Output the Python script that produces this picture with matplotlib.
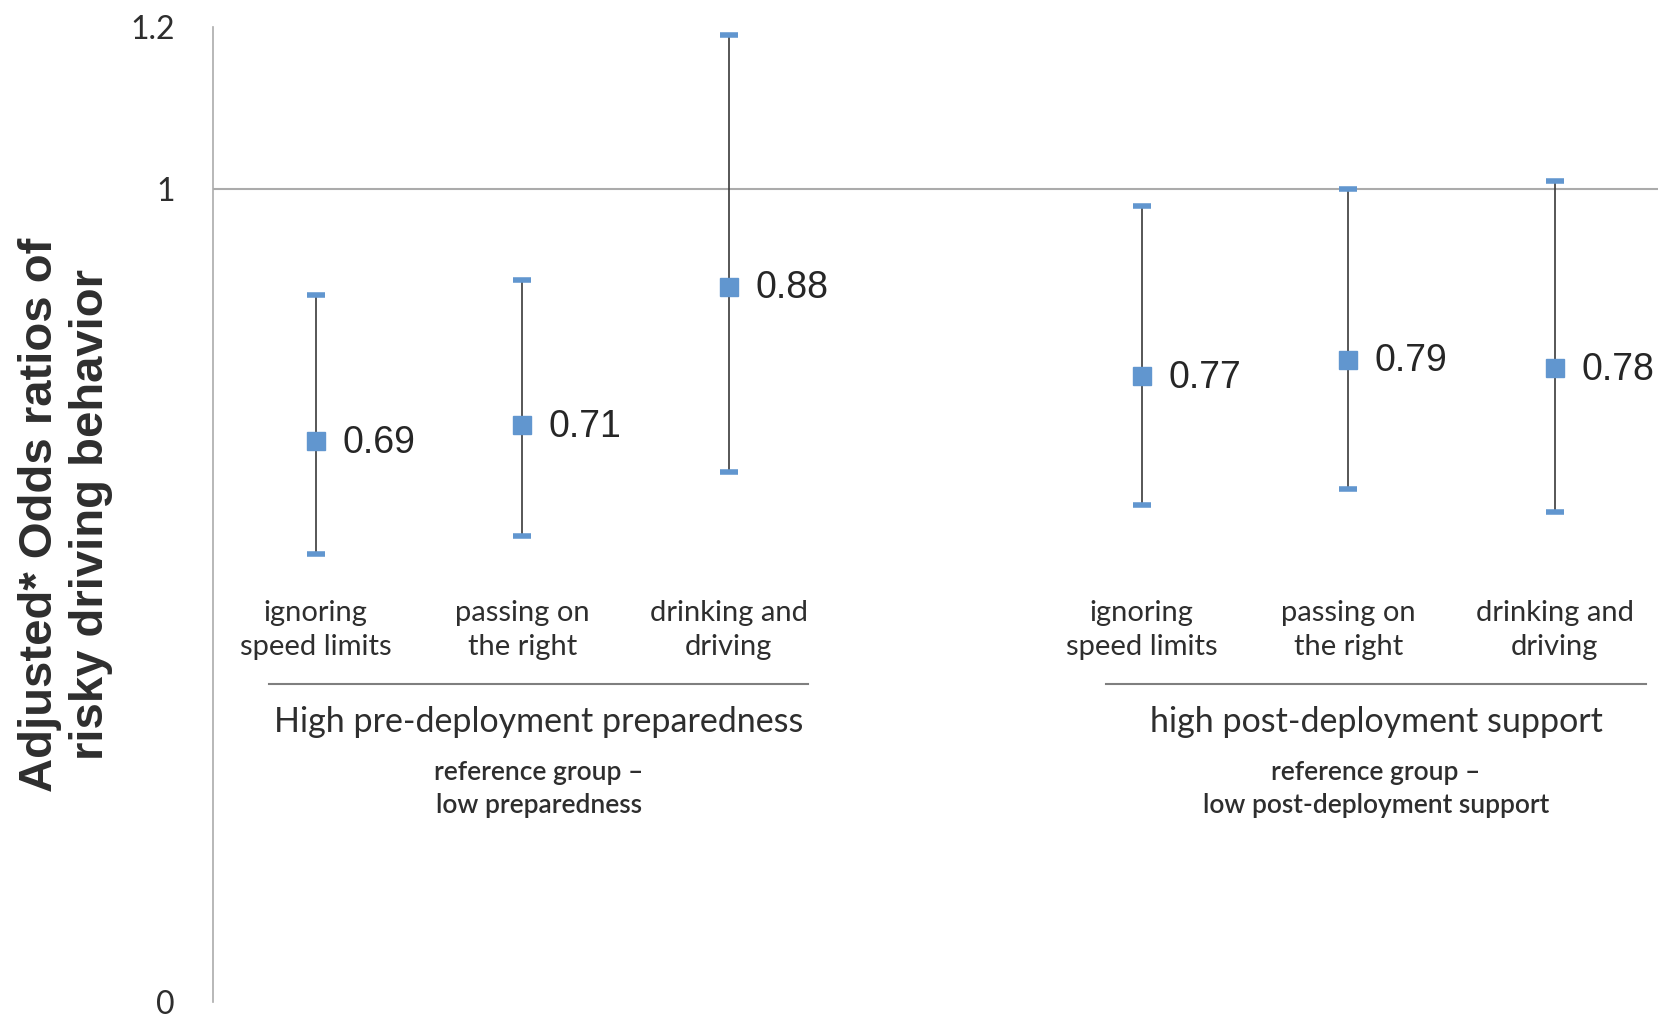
import matplotlib
matplotlib.use("Agg")
import matplotlib.pyplot as plt

# Data (position 3 is an empty gap between the two groups)
positions = [0, 1, 2, 4, 5, 6]
categories = ["ignoring\nspeed limits", "passing on\nthe right", "drinking and\ndriving",
              "ignoring\nspeed limits", "passing on\nthe right", "drinking and\ndriving"]
odds_ratios = [0.69, 0.71, 0.88, 0.77, 0.79, 0.78]
ci_lower = [0.552, 0.573, 0.652, 0.612, 0.631, 0.603]
ci_upper = [0.870, 0.889, 1.190, 0.980, 1.000, 1.010]

group_names = ["High pre-deployment preparedness", "high post-deployment support"]
group_refs = ["reference group \u2013\nlow preparedness",
              "reference group \u2013\nlow post-deployment support"]
group_spans = [(-0.227, 2.385), (3.827, 6.443)]

y_ticks = [0, 1, 1.2]

BLUE = "#6196CF"
TEXT = "#2e2e2e"
AXIS_GRAY = "#ABABAB"
LABEL_FONT = "Lato"

fig = plt.figure(figsize=(16.67, 10.17), dpi=100)
ax = fig.add_axes([0.1275, 0.0147, 0.8671, 0.9588])

ax.set_xlim(-0.5, 6.5)
ax.set_ylim(0, 1.2)

# reference line at OR = 1
ax.axhline(1, color=AXIS_GRAY, linewidth=1.5, zorder=1)

# confidence intervals
ax.vlines(positions, ci_lower, ci_upper, color="#3a3a3a", linewidth=1.2, zorder=2)
ax.plot(positions, ci_lower, linestyle="none", marker="_", markersize=13,
        markeredgewidth=4, color=BLUE, zorder=3)
ax.plot(positions, ci_upper, linestyle="none", marker="_", markersize=13,
        markeredgewidth=4, color=BLUE, zorder=3)

# point estimates
ax.plot(positions, odds_ratios, linestyle="none", marker="s", markersize=13,
        color=BLUE, zorder=4)
for x, v in zip(positions, odds_ratios):
    ax.annotate(f"{v:.2f}", (x, v), xytext=(19, -1), textcoords="offset points",
                ha="left", va="center", fontsize=27, color="#262626",
                family="Liberation Sans")

# category labels under each estimate
for x, cat in zip(positions, categories):
    ax.text(x, 0.458, cat, ha="center", va="center", fontsize=21, color=TEXT,
            family=LABEL_FONT, linespacing=1.38)

# group separators and captions
for (x0, x1), name, ref in zip(group_spans, group_names, group_refs):
    xc = (x0 + x1) / 2
    ax.plot([x0, x1], [0.392, 0.392], color="#7f7f7f", linewidth=1.5, clip_on=False)
    ax.text(xc, 0.345, name, ha="center", va="center", fontsize=24.5, color=TEXT,
            family=LABEL_FONT)
    ax.text(xc, 0.262, ref, ha="center", va="center", fontsize=19, color=TEXT,
            family=LABEL_FONT, fontweight="semibold", linespacing=1.4)

# axes styling
ax.set_yticks(y_ticks)
ax.set_yticklabels(["0", "1", "1.2"], fontsize=23, color=TEXT, family=LABEL_FONT)
ax.tick_params(axis="y", length=0, pad=27)
ax.set_xticks([])
for side in ["top", "right", "bottom"]:
    ax.spines[side].set_visible(False)
ax.spines["left"].set_color(AXIS_GRAY)
ax.spines["left"].set_linewidth(1.2)

fig.text(0.0395, 0.494, "Adjusted* Odds ratios of\nrisky driving behavior",
         rotation=90, ha="center", va="center", fontsize=34, fontweight="bold",
         color=TEXT, family="Liberation Sans", linespacing=1.2)

fig.savefig("out.png", dpi=100)
